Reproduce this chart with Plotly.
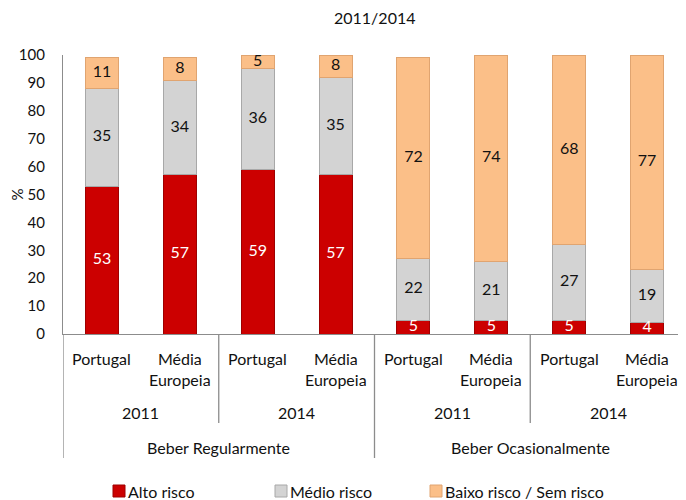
import plotly.graph_objects as go

# ---------------- data ----------------
groups = ["Beber Regularmente"] * 4 + ["Beber Ocasionalmente"] * 4
years = ["2011", "2011", "2014", "2014", "2011", "2011", "2014", "2014"]
countries = ["Portugal", "Média<br>Europeia"] * 4
alto = [53, 57, 59, 57, 5, 5, 5, 4]
medio = [35, 34, 36, 35, 22, 21, 27, 19]
baixo = [11, 8, 5, 8, 72, 74, 68, 77]
series_names = ["Alto risco", "Médio risco", "Baixo risco / Sem risco"]
title_text = "2011/2014"
y_label = "%"
y_ticks = [0, 10, 20, 30, 40, 50, 60, 70, 80, 90, 100]

# ---------------- style ----------------
OFF = 8  # page body margin
W, H = 686 - OFF, 500 - OFF
ML, MR, MT, MB = 63 - OFF, 0, 55 - OFF, 500 - 334
FONT = "Lato, Carlito, Calibri, sans-serif"
colors = ["#CC0000", "#D3D3D3", "#FBBF88"]
edge = ["#9E0000", "#A8A8A8", "#E0A470"]
text_colors = ["white", "#111111", "#111111"]

cats = [f"{g}|{y}|{c}" for g, y, c in zip(groups, years, countries)]
series = [alto, medio, baixo]

fig = go.Figure()
for name, vals, col, ec in zip(series_names, series, colors, edge):
    fig.add_trace(go.Bar(x=cats, y=vals, name=name, marker=dict(color=col, line=dict(color=ec, width=1)),
                         showlegend=False, hoverinfo="y+name"))

# data labels at segment mid-points
base = [0] * len(cats)
for vals, tc in zip(series, text_colors):
    mids = [b + v / 2 for b, v in zip(base, vals)]
    fig.add_trace(go.Scatter(x=cats, y=mids, mode="text", text=[str(v) for v in vals],
                             textfont=dict(family=FONT, size=16, color=tc),
                             showlegend=False, hoverinfo="skip", cliponaxis=False))
    base = [b + v for b, v in zip(base, vals)]

plot_h = H - MT - MB
plot_w = W - ML - MR


def py(pix):  # page pixel y -> paper y
    return (334 - pix) / plot_h


def px(pix):  # page pixel x -> paper x
    return (pix - 63) / plot_w


ann = []
shapes = []
# level 1: countries
for c in cats:
    lab = c.split("|")[2]
    ann.append(dict(x=c, xref="x", y=py(347), yref="paper", yanchor="top", xanchor="center",
                    text=lab, showarrow=False, font=dict(family=FONT, size=16, color="#111111")))
# level 2: years
n = len(cats)
for i in range(0, n, 2):
    ann.append(dict(x=i + 0.5, xref="x", y=py(412), yref="paper", yanchor="middle", xanchor="center",
                    text=years[i], showarrow=False, font=dict(family=FONT, size=16, color="#111111")))
# level 3: groups
for i in range(0, n, 4):
    ann.append(dict(x=i + 1.5, xref="x", y=py(447), yref="paper", yanchor="middle", xanchor="center",
                    text=groups[i], showarrow=False, font=dict(family=FONT, size=16, color="#111111")))

line_col = "#8C8C8C"
# separators
for i in range(2, n, 2):
    bottom = py(458) if i % 4 == 0 else py(423)
    shapes.append(dict(type="line", xref="x", yref="paper", x0=i - 0.5, x1=i - 0.5, y0=0, y1=bottom,
                       line=dict(color=line_col, width=1.3)))
shapes.append(dict(type="line", xref="x", yref="paper", x0=-0.5, x1=-0.5, y0=0, y1=py(458),
                   line=dict(color=line_col, width=1.3)))

# manual legend
leg_x = [113, 275, 430]
for name, col, ec, lx in zip(series_names, colors, edge, leg_x):
    shapes.append(dict(type="rect", xref="paper", yref="paper", x0=px(lx), x1=px(lx + 12),
                       y0=py(497), y1=py(485), fillcolor=col, line=dict(color=ec, width=1)))
    ann.append(dict(x=px(lx + 13), xref="paper", y=py(491), yref="paper", xanchor="left", yanchor="middle",
                    text=name, showarrow=False, font=dict(family=FONT, size=16, color="#111111")))

# title
ann.append(dict(x=0.5, xref="paper", y=py(18), yref="paper", xanchor="center", yanchor="middle",
                text=title_text, showarrow=False, font=dict(family=FONT, size=16, color="#111111")))

fig.update_layout(
    width=W, height=H,
    margin=dict(l=ML, r=MR, t=MT, b=MB, autoexpand=False),
    barmode="stack", bargap=0.575,
    plot_bgcolor="white", paper_bgcolor="white",
    font=dict(family=FONT, size=15, color="#111111"),
    annotations=ann, shapes=shapes,
    showlegend=False,
)
fig.update_xaxes(type="category", categoryorder="array", categoryarray=cats, showticklabels=False,
                 showline=True, linecolor=line_col, linewidth=1.3, showgrid=False, zeroline=False,
                 range=[-0.5, n - 0.5], fixedrange=True, automargin=False)
fig.update_yaxes(range=[0, 100], tickvals=y_ticks, showgrid=False, zeroline=False, showline=True,
                 linecolor=line_col, linewidth=1.3, ticks="", ticklabelstandoff=14, automargin=False,
                 title=dict(text=y_label, standoff=8, font=dict(family=FONT, size=15)),
                 tickfont=dict(family=FONT, size=15, color="#111111"))

fig.write_html("out.html")
